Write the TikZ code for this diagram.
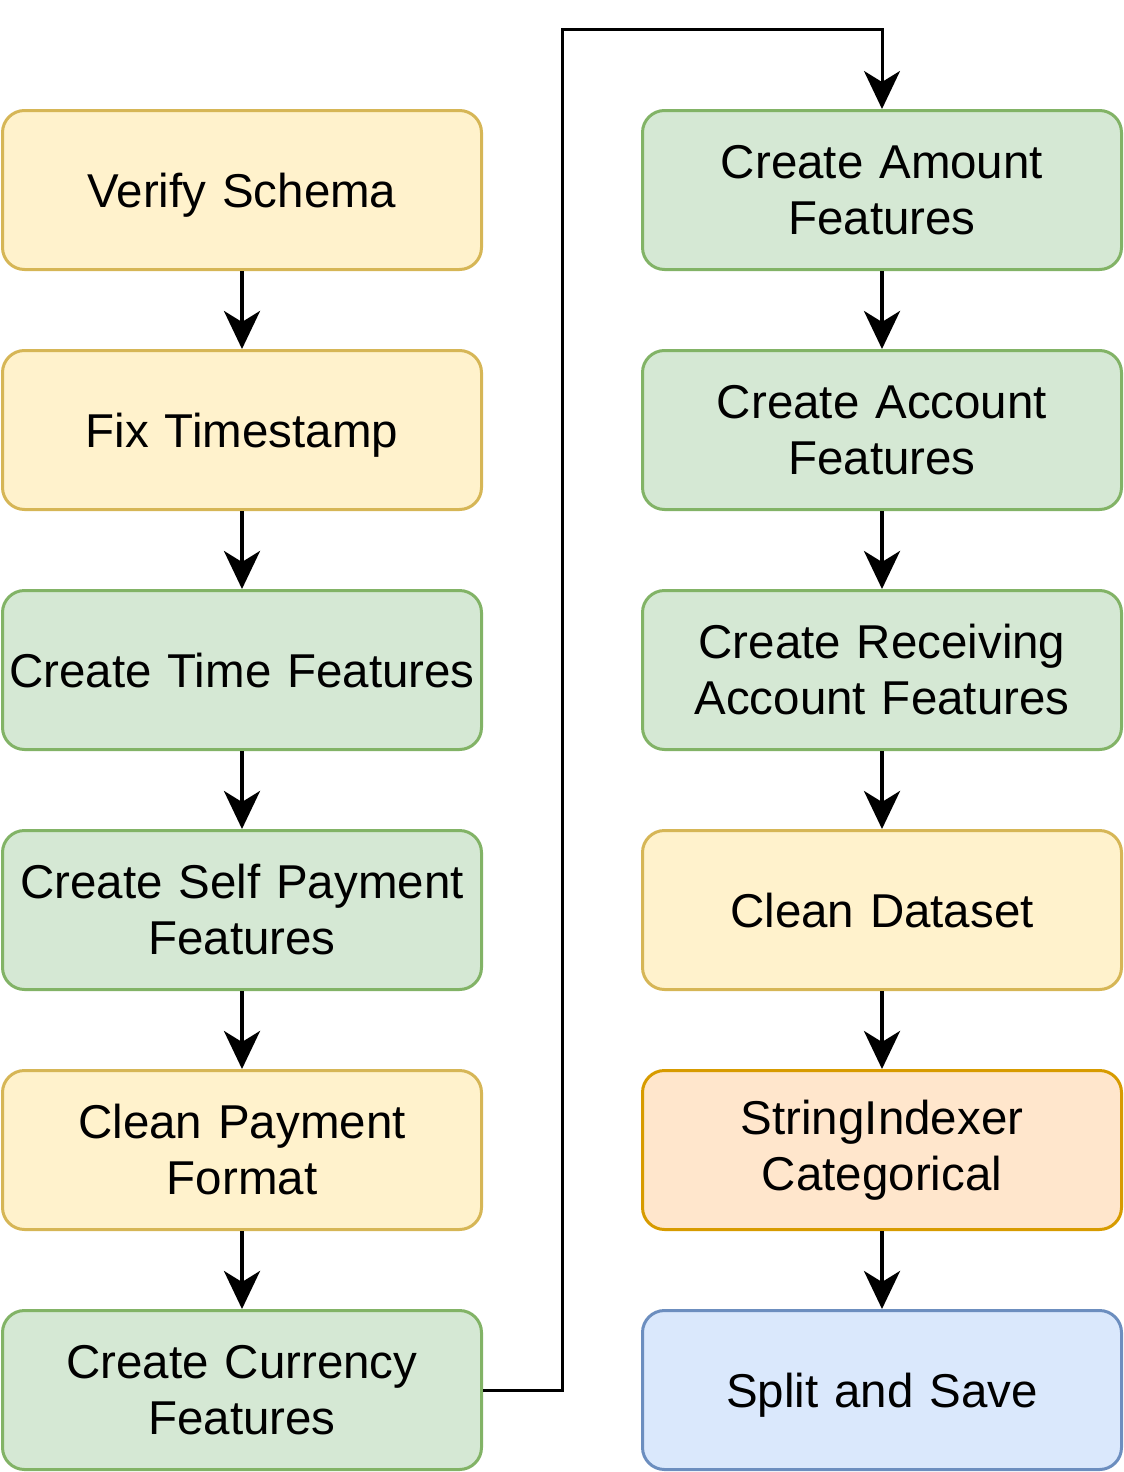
\documentclass[tikz,border=0pt]{standalone}
\usepackage{fontspec}
\setmainfont{Liberation Sans}
\usetikzlibrary{arrows.meta}
\definecolor{yfill}{HTML}{FFF2CC}\definecolor{ydraw}{HTML}{D6B656}
\definecolor{gfill}{HTML}{D5E8D4}\definecolor{gdraw}{HTML}{82B366}
\definecolor{ofill}{HTML}{FFE6CC}\definecolor{odraw}{HTML}{D79B00}
\definecolor{bfill}{HTML}{DAE8FC}\definecolor{bdraw}{HTML}{6C8EBF}
\tikzset{
  box/.style={rounded corners=22pt, line width=3pt, minimum width=479pt, minimum height=159pt,
    align=center, text width=476pt, inner sep=0pt,
    font=\fontsize{47.5}{56}\selectfont},
  ybox/.style={box, fill=yfill, draw=ydraw},
  gbox/.style={box, fill=gfill, draw=gdraw},
  obox/.style={box, fill=ofill, draw=odraw},
  bbox/.style={box, fill=bfill, draw=bdraw},
  one/.style={text depth=0pt},
  arr/.style={line width=4pt, -{Stealth[length=38pt, width=36pt, inset=11pt]}}
}
\begin{document}
\begin{tikzpicture}[x=1pt,y=-1pt]
\useasboundingbox (0,0) rectangle (1124,1472);
\node[ybox,one] (vs) at (242,190) {Verify Schema};
\node[ybox,one] (ft) at (242,430) {Fix Timestamp};
\node[gbox,one] (tf) at (242,670) {Create Time Features};
\node[gbox] (sp) at (242,910) {Create Self Payment\\Features};
\node[ybox] (cp) at (242,1150) {Clean Payment\\Format};
\node[gbox] (cc) at (242,1390) {Create Currency\\Features};
\node[gbox] (am) at (882,190) {Create Amount\\Features};
\node[gbox] (ac) at (882,430) {Create Account\\Features};
\node[gbox] (ra) at (882,670) {Create Receiving\\Account Features};
\node[ybox,one] (cd) at (882,910) {Clean Dataset};
\node[obox] (si) at (882,1150) {StringIndexer\\Categorical};
\node[bbox,one] (ss) at (882,1390) {Split and Save};
\coordinate (top) at (562,30);
\draw[arr] (vs) -- (ft);
\draw[arr] (ft) -- (tf);
\draw[arr] (tf) -- (sp);
\draw[arr] (sp) -- (cp);
\draw[arr] (cp) -- (cc);
\draw[arr] (am) -- (ac);
\draw[arr] (ac) -- (ra);
\draw[arr] (ra) -- (cd);
\draw[arr] (cd) -- (si);
\draw[arr] (si) -- (ss);
\draw[arr, line width=3pt] (cc.east) -| (top) -| (am.north);
\end{tikzpicture}
\end{document}
